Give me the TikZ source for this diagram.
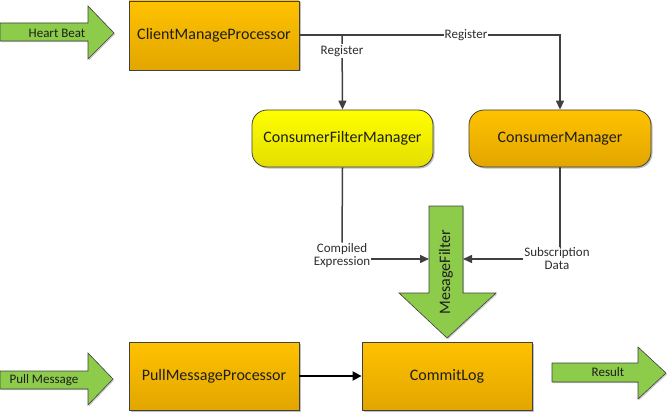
\documentclass[tikz,border=0pt]{standalone}
\usepackage{fontspec}
\setmainfont{Carlito}
\usetikzlibrary{arrows.meta,shadows}
\definecolor{orTop}{RGB}{255,194,0}
\definecolor{orBot}{RGB}{226,166,0}
\definecolor{yeTop}{RGB}{255,255,0}
\definecolor{yeBot}{RGB}{228,222,0}
\definecolor{grn}{RGB}{141,203,74}
\definecolor{edge}{RGB}{64,64,64}
\definecolor{txt}{RGB}{30,30,30}
\definecolor{lbltxt}{RGB}{45,45,45}
\tikzset{
  boxbase/.style={draw=edge, line width=0.8pt, text=txt, font=\fontsize{16}{19}\selectfont,
    drop shadow={shadow xshift=1.5pt, shadow yshift=-1.5pt, opacity=0.25, fill=black}},
  orbox/.style={boxbase, top color=orTop, bottom color=orBot},
  yebox/.style={boxbase, top color=yeTop, bottom color=yeBot},
  bigarrow/.style={draw=edge, line width=0.6pt, fill=grn,
    drop shadow={shadow xshift=1.2pt, shadow yshift=-1.2pt, opacity=0.2, fill=black}},
  arrtxt/.style={text=txt, font=\fontsize{13}{15}\selectfont},
  lbl/.style={text=lbltxt, font=\fontsize{13}{15}\selectfont, align=center, inner sep=1pt},
  conn/.style={draw=edge, line width=1.5pt},
  connarrow/.style={conn, -{Triangle[length=9pt,width=8pt]}},
  thickarrow/.style={draw=black, line width=2pt, -{Triangle[length=9pt,width=9pt]}},
}
\begin{document}
\begin{tikzpicture}[x=1pt,y=-1pt]
\useasboundingbox (0,0) rectangle (668,414);

% big green arrows
\draw[bigarrow] (0,23) -- (88,23) -- (88,6) -- (114,33) -- (88,59) -- (88,41) -- (0,41) -- cycle;
\node[arrtxt] (hb) at (57,33) {Heart Beat};

\draw[bigarrow] (0,371) -- (88,371) -- (88,353) -- (113,379) -- (88,405) -- (88,389) -- (0,389) -- cycle;
\node[arrtxt] (pm) at (44,380) {Pull Message};

\draw[bigarrow] (552,363) -- (638,363) -- (638,347) -- (666,373) -- (638,399) -- (638,382) -- (552,382) -- cycle;
\node[arrtxt] (res) at (608,372) {Result};

% boxes
\node[orbox, minimum width=170pt, minimum height=69pt] (cmp) at (214,35.5) {ClientManageProcessor};
\node[yebox, rounded corners=15pt, minimum width=181pt, minimum height=57pt] (cfm) at (342.5,138.5) {ConsumerFilterManager};
\node[orbox, rounded corners=15pt, minimum width=182pt, minimum height=57pt] (cm) at (560,138.5) {ConsumerManager};
\node[orbox, minimum width=170pt, minimum height=68pt] (pmp) at (214,376) {PullMessageProcessor};
\node[orbox, minimum width=170pt, minimum height=68pt] (cl) at (447,376) {CommitLog};

% MessageFilter arrow
\draw[bigarrow] (429,206) -- (463,206) -- (463,293) -- (496,293) -- (447,338) -- (399,293) -- (429,293) -- cycle;
\node[text=txt, font=\fontsize{16}{19}\selectfont, rotate=90] (mf) at (446,272) {MesageFilter};
\coordinate (mfL) at (429,259);
\coordinate (mfR) at (463,259);

% Register connectors
\coordinate (j1) at (342,35);
\draw[connarrow] (cmp.east |- j1) -| (cm.north);
\draw[connarrow] (j1) -- (cfm.north);
\node[lbl, fill=white] (reg1) at (342,51) {Register};
\node[lbl, fill=white] (reg2) at (466,35) {Register};

% Compiled Expression
\node[lbl] (ce) at (342,256) {Compiled\\[-2pt]Expression};
\draw[conn] (cfm.south) -- (ce.north);
\draw[connarrow] (ce.east |- mfL) -- (mfL);

% Subscription Data
\node[lbl] (sd) at (557,259) {Subscription\\[-2pt]Data};
\draw[conn] (cm.south) -- (cm.south |- sd.north);
\draw[connarrow] (sd.west |- mfR) -- (mfR);

% PullMessageProcessor -> CommitLog
\draw[thickarrow] (pmp.east) -- (cl.west);
\end{tikzpicture}
\end{document}
